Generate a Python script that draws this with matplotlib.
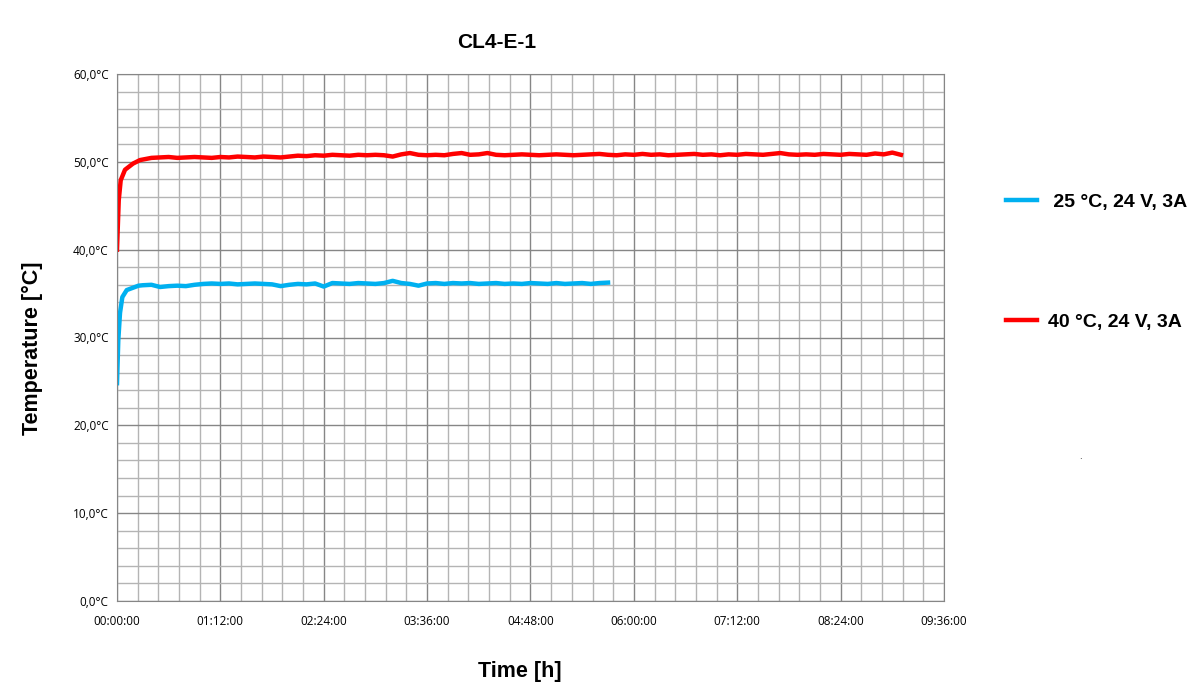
import numpy as np
import matplotlib
matplotlib.use("Agg")
import matplotlib.pyplot as plt
from matplotlib.ticker import MultipleLocator, FuncFormatter

# time in hours, temperature in °C
red_rise_t = [0.0, 0.02, 0.043, 0.093, 0.186, 0.267, 0.4]
red_rise_v = [40.0, 45.6, 47.9, 49.1, 49.8, 50.2, 50.45]
red_t = np.round(np.arange(0.5, 9.15, 0.1), 2)
red_v = [50.5, 50.55, 50.45, 50.5, 50.55, 50.5, 50.45, 50.55, 50.5, 50.6, 50.55, 50.5, 50.6, 50.55, 50.5, 50.6,
         50.7, 50.65, 50.75, 50.7, 50.8, 50.75, 50.7, 50.8, 50.75, 50.8,
         50.75, 50.6, 50.85, 51.0, 50.8, 50.75, 50.8, 50.75, 50.9, 51.0,
         50.8, 50.85, 51.0, 50.8, 50.75, 50.8, 50.85, 50.8, 50.75, 50.8,
         50.85, 50.8, 50.75, 50.8, 50.85, 50.9, 50.8, 50.75, 50.85, 50.8,
         50.9, 50.8, 50.85, 50.75, 50.8, 50.85, 50.9, 50.8, 50.85, 50.75,
         50.85, 50.8, 50.9, 50.85, 50.8, 50.9, 51.0, 50.85, 50.8, 50.85,
         50.8, 50.9, 50.85, 50.8, 50.9, 50.85, 50.8, 50.95, 50.85, 51.05, 50.8]

blue_rise_t = [0.0, 0.015, 0.035, 0.062, 0.113, 0.25]
blue_rise_v = [24.8, 29.7, 32.8, 34.6, 35.4, 35.9]
blue_t = np.round(np.arange(0.3, 5.75, 0.1), 2)
blue_v = [35.95, 36.0, 35.75, 35.85, 35.9, 35.85, 36.0, 36.1,
          36.15, 36.1, 36.15, 36.05, 36.1, 36.15, 36.1, 36.05, 35.85, 36.0,
          36.1, 36.05, 36.15, 35.8, 36.2, 36.15, 36.1, 36.2, 36.15, 36.1,
          36.2, 36.45, 36.2, 36.1, 35.9, 36.15, 36.2, 36.1, 36.2, 36.15,
          36.2, 36.1, 36.15, 36.2, 36.1, 36.15, 36.1, 36.2, 36.15, 36.1,
          36.2, 36.1, 36.15, 36.2, 36.1, 36.2, 36.25]

labels = [" 25 °C, 24 V, 3A", "40 °C, 24 V, 3A"]
colors = ["#00B0F0", "#FF0000"]

fig = plt.figure(figsize=(12.03, 7.0), dpi=100)
ax = fig.add_axes([117 / 1203, 1 - 601 / 700, 827 / 1203, 527 / 700])

ax.plot(list(blue_rise_t) + list(blue_t), blue_rise_v + blue_v, color=colors[0], lw=3.2, label=labels[0])
ax.plot(list(red_rise_t) + list(red_t), red_rise_v + red_v, color=colors[1], lw=3.2, label=labels[1])

ax.set_xlim(0, 9.6)
ax.set_ylim(0, 60)
ax.xaxis.set_major_locator(MultipleLocator(1.2))
ax.xaxis.set_minor_locator(MultipleLocator(0.24))
ax.yaxis.set_major_locator(MultipleLocator(10))
ax.yaxis.set_minor_locator(MultipleLocator(2))


def hms(x, pos):
    m = int(round(x * 60))
    return "%02d:%02d:00" % (m // 60, m % 60)


ax.xaxis.set_major_formatter(FuncFormatter(hms))
ax.yaxis.set_major_formatter(FuncFormatter(lambda v, p: ("%.1f" % v).replace(".", ",") + "°C"))
ax.grid(which="major", color="#868686", lw=1.0)
ax.grid(which="minor", color="#b4b4b4", lw=1.0)
ax.set_axisbelow(True)
for s in ax.spines.values():
    s.set_color("#868686")
ax.tick_params(which="both", length=0)
ax.tick_params(axis="x", pad=10)
ax.tick_params(axis="y", pad=6)
for t in ax.get_xticklabels() + ax.get_yticklabels():
    t.set_fontfamily("Open Sans")
    t.set_fontsize(8.5)

bold = dict(family="Liberation Sans", weight="bold")
fig.text(497 / 1203, 1 - 42 / 700, "CL4-E-1", ha="center", va="center", fontsize=15, **bold)
fig.text(520 / 1203, 1 - 672 / 700, "Time [h]", ha="center", va="center", fontsize=15.5, **bold)
fig.text(32 / 1203, 1 - 348 / 700, "Temperature [°C]", ha="center", va="center", rotation=90, fontsize=15.5, **bold)
fig.text(1080 / 1203, 1 - 461 / 700, ".", ha="center", va="bottom", fontsize=6)

leg = ax.legend(loc="upper left", bbox_to_anchor=(988 / 1203, 1 - 176 / 700), bbox_transform=fig.transFigure,
                frameon=False, handlelength=1.6, labelspacing=5.25, handletextpad=0.6,
                prop=dict(family="Liberation Sans", weight="bold", size=14))

fig.savefig("out.png", dpi=100)
